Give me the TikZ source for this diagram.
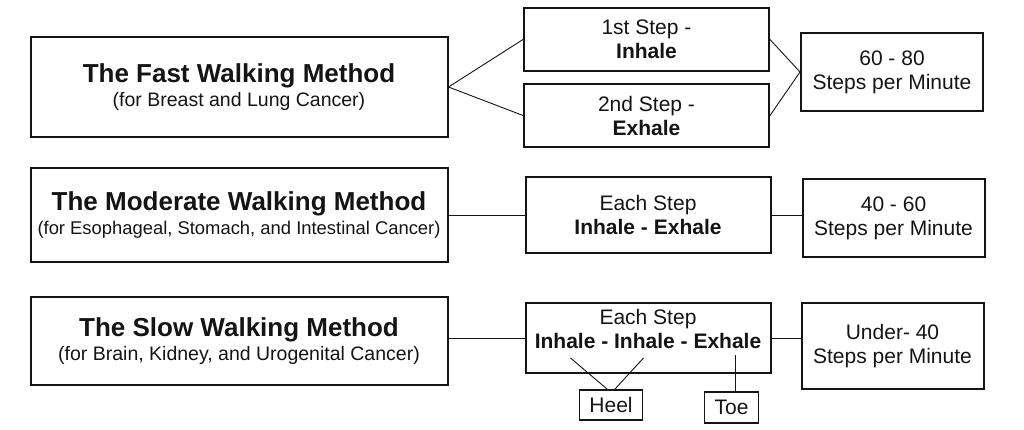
\documentclass[tikz,border=0pt]{standalone}
\usepackage{fontspec}
\setmainfont{Liberation Sans}
\usetikzlibrary{positioning}
\definecolor{inkblack}{RGB}{20,20,20}
\newcommand{\titlesize}{\fontsize{26}{24}\selectfont\bfseries}
\newcommand{\notesize}{\fontsize{19.5}{24}\selectfont}
\tikzset{
  base/.style     = {draw=inkblack, text=inkblack, line width=2pt, align=center,
                     inner sep=0pt, font=\fontsize{21}{24}\selectfont},
  method/.style   = {base, minimum width=417pt, font=\notesize},
  stepbox/.style  = {base, minimum width=245pt},
  ratebox/.style  = {base, minimum width=182pt, minimum height=78pt},
  footbox/.style  = {base, line width=1.8pt, minimum height=30pt},
  link/.style     = {line width=0.9pt, color=inkblack},
}
\begin{document}
\begin{tikzpicture}[x=1pt, y=-1pt, node distance=29pt and 30pt]
  \useasboundingbox (0,0) rectangle (1024,430);

  % Methods
  \node[method, minimum height=100pt] (fast) at (239,87)
    {{\titlesize The Fast Walking Method}\\(for Breast and Lung Cancer)};
  \node[method, minimum height=94pt, below=of fast] (moderate)
    {{\titlesize The Moderate Walking Method}\\{\fontsize{18.4}{24}\selectfont(for Esophageal, Stomach, and Intestinal Cancer)}};
  \node[method, minimum height=88pt, below=33pt of moderate] (slow)
    {{\titlesize The Slow Walking Method}\\(for Brain, Kidney, and Urogenital Cancer)};

  % Breathing per step
  \node[stepbox, minimum height=63pt] (inhale) at (646.5,39.5) {1st Step -\\\textbf{Inhale}};
  \node[stepbox, minimum height=63pt, below=11pt of inhale] (exhale) {2nd Step -\\\textbf{Exhale}};
  \node[stepbox, minimum height=75pt, right=76pt of moderate] (modstep) {Each Step\\\textbf{Inhale - Exhale}};
  \node[stepbox, minimum height=70pt, text depth=19pt, right=76pt of slow, yshift=3pt] (slowstep)
    {Each Step\\\textbf{Inhale - Inhale - Exhale}};

  % Pace
  \node[ratebox] (fastrate) at (892,72) {60 - 80\\Steps per Minute};
  \node[ratebox, right=of modstep, yshift=-3pt] (modrate) {40 - 60\\Steps per Minute};
  \node[ratebox, minimum height=86pt, right=29pt of slowstep, yshift=-8pt] (slowrate) {Under- 40\\Steps per Minute};

  % Heel and toe
  \node[footbox, minimum width=63pt, below=15pt of slowstep, xshift=-37pt] (heel) {Heel};
  \node[footbox, minimum width=54pt, minimum height=31pt, below=17pt of slowstep, xshift=83.5pt] (toe) {Toe};
  \coordinate (inh1) at ([shift={(-77.5,20)}]slowstep.center);
  \coordinate (inh2) at ([shift={(-4.5,20)}]slowstep.center);
  \coordinate (exh) at ([shift={(87.5,17)}]slowstep.center);

  % Connectors
  \draw[link] (fast.east) -- (inhale.west);
  \draw[link] (fast.east) -- (exhale.west);
  \draw[link] (inhale.east) -- (fastrate.west);
  \draw[link] (exhale.east) -- (fastrate.west);
  \draw[link] (moderate.east |- modstep.west) -- (modstep.west);
  \draw[link] (modstep.east) -- (modstep.east -| modrate.west);
  \draw[link] (slow.east |- slowstep.west) -- (slowstep.west);
  \draw[link] (slowstep.east) -- (slowstep.east -| slowrate.west);
  \draw[link] (inh1) -- ([xshift=-4pt]heel.north);
  \draw[link] (inh2) -- ([xshift=4pt]heel.north);
  \draw[link] (exh) -- (exh |- toe.north);

\end{tikzpicture}
\end{document}
